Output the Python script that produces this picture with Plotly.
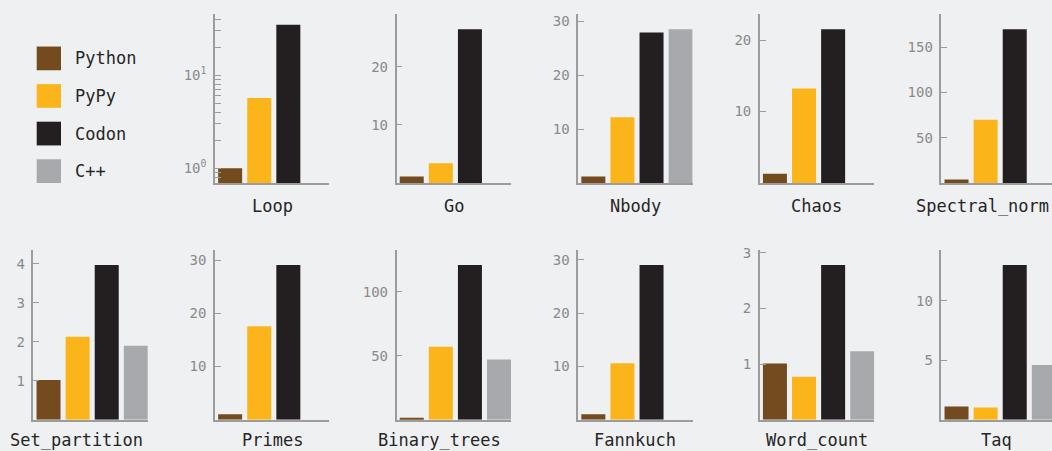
import math
import plotly.graph_objects as go

# ---------------- data ----------------
benchmarks = ["Loop", "Go", "Nbody", "Chaos", "Spectral_norm",
              "Set_partition", "Primes", "Binary_trees", "Fannkuch", "Word_count", "Taq"]
series = ["Python", "PyPy", "Codon", "C++"]
colors = ["#744b1f", "#fbb51a", "#231f20", "#a8a9ac"]

python_vals = [1.0, 1.1, 1.2, 1.3, 4.0, 1.02, 1.0, 1.5, 1.0, 1.01, 1.1]
pypy_vals = [5.7, 3.4, 12.2, 13.2, 70, 2.13, 17.6, 57, 10.6, 0.77, 1.03]
codon_vals = [34.9, 26.5, 27.9, 21.5, 170, 3.97, 29.1, 121, 29.0, 2.78, 13.0]
cpp_vals = [None, None, 28.5, None, None, 1.9, None, 47, None, 1.23, 4.6]

tick_steps = [None, 10, 10, 10, 50, 1, 10, 50, 10, 1, 5]
log_panels = ["Loop"]

# ---------------- layout constants ----------------
W, H = 1052, 451
BG = "#eff0f2"
AXIS_C = "#9c9c9c"
TICK_FONT = dict(family="DejaVu Sans Mono", size=14, color="#8a8a8a")
LABEL_FONT = dict(family="DejaVu Sans Mono", size=17, color="#262626")

col_start0, col_step, col_w = 33.4, 181.6, 114.4
rows_px = [(9, 180), (247.3, 419.3)]          # (top, baseline) in px
label_cy = [203.5, 440.0]                      # label centre (px from top)
slot_px = 29.1
x_lo = -0.52

fig = go.Figure()
annotations = []
shapes = []

for k, name in enumerate(benchmarks):
    if k < 5:
        row, col = 0, k + 1
    else:
        row, col = 1, k - 5
    vals = [python_vals[k], pypy_vals[k], codon_vals[k], cpp_vals[k]]
    ax = "" if k == 0 else str(k + 1)
    fig.add_trace(go.Bar(
        x=series, y=vals, marker=dict(color=colors, line=dict(width=0)),
        xaxis="x" + ax, yaxis="y" + ax, showlegend=False,
        hovertemplate="%{x}: %{y}<extra>" + name + "</extra>"))

    x0 = col_start0 + col * col_step
    x1 = min(x0 + col_w, W)
    top, base = rows_px[row]
    xdom = [x0 / W, x1 / W]
    ydom = [1 - base / H, 1 - top / H]
    x_hi = x_lo + (x1 - x0) / slot_px

    fig.layout["xaxis" + ax] = dict(
        domain=xdom, anchor="y" + ax, type="category",
        categoryorder="array", categoryarray=series,
        range=[x_lo, x_hi], showline=True, linecolor=AXIS_C, linewidth=1.5,
        ticks="", showticklabels=False, showgrid=False, zeroline=False,
        fixedrange=True)

    present = [v for v in vals if v is not None]
    vmax = max(present)
    if name in log_panels:
        vmin = min(present)
        major, minor = [], []
        for dec in (0.1, 1, 10):
            for m in range(1, 10):
                v = round(m * dec, 6)
                if 0.75 <= v <= 45:
                    (major if m == 1 else minor).append(v)
        yax = dict(type="log", range=[math.log10(vmin) - 0.16, math.log10(vmax) + 0.117],
                   tickvals=major,
                   ticktext=["10<sup>%d</sup>" % round(math.log10(v)) for v in major],
                   minor=dict(tickmode="array", tickvals=minor, ticks="inside",
                              ticklen=6, tickwidth=1.2, tickcolor=AXIS_C, showgrid=False))
    else:
        ymax = vmax * 1.1
        step = tick_steps[k]
        tv = [step * i for i in range(1, int(ymax / step) + 1)]
        yax = dict(range=[0, ymax], tickvals=tv, ticktext=[f"{t:g}" for t in tv])
    yax.update(domain=ydom, anchor="x" + ax, showline=True, linecolor=AXIS_C,
               linewidth=1.5, ticks="inside", ticklen=6, tickwidth=1.2,
               tickcolor=AXIS_C, tickfont=TICK_FONT, showgrid=False,
               zeroline=False, ticklabelstandoff=4, fixedrange=True)
    fig.layout["yaxis" + ax] = yax

    annotations.append(dict(
        text=name, xref="x" + ax + " domain", x=0.5, yref="paper",
        y=1 - label_cy[row] / H, xanchor="center", yanchor="middle",
        xshift=-14 if len(name) > 11 else 0, showarrow=False, font=LABEL_FONT))

# ---------------- legend (drawn) ----------------
for i, (s, c) in enumerate(zip(series, colors)):
    cy = 54 + i * 38
    shapes.append(dict(type="rect", xref="paper", yref="paper",
                       x0=36.7 / W, x1=61 / W, y0=1 - (cy + 12) / H, y1=1 - (cy - 12) / H,
                       fillcolor=c, line=dict(width=0)))
    annotations.append(dict(text=s, xref="paper", yref="paper", x=73 / W,
                            y=1 - cy / H, xanchor="left", yanchor="middle",
                            showarrow=False, font=LABEL_FONT))

fig.update_layout(
    width=W, height=H, autosize=False,
    margin=dict(l=0, r=0, t=0, b=0, pad=0),
    paper_bgcolor=BG, plot_bgcolor=BG,
    bargap=0.175, showlegend=False,
    annotations=annotations, shapes=shapes,
    font=dict(family="DejaVu Sans Mono"),
)

fig.write_html("out.html")
